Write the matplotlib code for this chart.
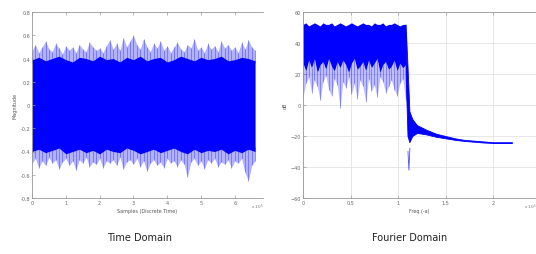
import numpy as np
import matplotlib.pyplot as plt

# time domain: dense core edges and spike envelopes
core_top = [0.39, 0.41, 0.38, 0.40, 0.42, 0.39, 0.37, 0.41, 0.40, 0.38, 0.42, 0.39, 0.40, 0.37,
            0.41, 0.39, 0.42, 0.38, 0.40, 0.41, 0.37, 0.39, 0.42, 0.40, 0.38, 0.41, 0.39, 0.40,
            0.42, 0.38, 0.39, 0.41, 0.40, 0.38]
core_bottom = [-0.40, -0.38, -0.41, -0.39, -0.37, -0.42, -0.40, -0.38, -0.41, -0.39, -0.42, -0.38,
               -0.40, -0.41, -0.37, -0.39, -0.42, -0.40, -0.38, -0.41, -0.39, -0.37, -0.40, -0.42,
               -0.38, -0.41, -0.39, -0.40, -0.38, -0.42, -0.39, -0.41, -0.38, -0.40]
upper_spikes = [0.47, 0.52, 0.45, 0.50, 0.55, 0.48, 0.46, 0.53, 0.49, 0.44, 0.51, 0.47, 0.50, 0.45,
                0.52, 0.48, 0.46, 0.54, 0.50, 0.47, 0.49, 0.45, 0.51, 0.56, 0.48, 0.53, 0.47, 0.58,
                0.50, 0.55, 0.60, 0.52, 0.48, 0.57, 0.50, 0.46, 0.53, 0.49, 0.55, 0.47, 0.51, 0.45,
                0.50, 0.54, 0.48, 0.46, 0.52, 0.49, 0.57, 0.47, 0.50, 0.45, 0.53, 0.48, 0.51, 0.46,
                0.55, 0.49, 0.52, 0.47, 0.50, 0.45, 0.54, 0.48, 0.56, 0.50, 0.47]
lower_spikes = [-0.50, -0.46, -0.54, -0.48, -0.52, -0.45, -0.50, -0.47, -0.55, -0.49, -0.46, -0.52,
                -0.48, -0.56, -0.47, -0.50, -0.45, -0.53, -0.49, -0.51, -0.46, -0.54, -0.48, -0.50,
                -0.47, -0.52, -0.45, -0.55, -0.49, -0.47, -0.51, -0.46, -0.53, -0.48, -0.57, -0.50,
                -0.47, -0.52, -0.49, -0.54, -0.46, -0.50, -0.48, -0.53, -0.47, -0.51, -0.62, -0.49,
                -0.46, -0.52, -0.48, -0.55, -0.47, -0.50, -0.46, -0.53, -0.49, -0.51, -0.47, -0.54,
                -0.48, -0.50, -0.46, -0.58, -0.65, -0.52, -0.48]
t_end = 6.6

# fourier domain: passband top, jagged core floor and low spikes, then roll-off tail
band_end = 1.08
band_top = [52, 53, 51, 52, 53, 52, 51, 53, 52, 52, 53, 51, 52, 53, 52, 51, 52, 53, 52, 51,
            52, 53, 52, 52, 51, 53, 52, 52, 53, 51, 52, 52, 53, 52, 51, 52, 52]
band_core = [27, 22, 29, 24, 30, 21, 26, 28, 23, 30, 25, 22, 28, 24, 29, 26, 21, 27, 30, 23,
             25, 28, 22, 29, 24, 27, 30, 21, 26, 28, 23, 25, 29, 22, 27, 24, 26]
band_spikes = [5, 14, 18, 8, 16, 12, 3, 15, 19, 10, 6, 17, 13, -2, 15, 11, 18, 7, 14, 4,
               16, 12, 2, 17, 9, 13, 5, 18, 15, 8, 12, 16, 10, 6, 14, 17, 3]
tail_x = [1.08, 1.10, 1.12, 1.15, 1.20, 1.30, 1.40, 1.50, 1.60, 1.70, 1.80, 1.90, 2.00, 2.10, 2.20]
tail_hi = [52, 25, -4, -9, -13, -16, -18.5, -20, -21.5, -22.5, -23, -23.5, -24, -24, -24]
tail_lo = [20, -20, -24, -20, -18, -19, -20.5, -21.5, -22.5, -23.2, -23.7, -24.2, -24.5, -24.5, -24.5]
dip_x = [1.105, 1.115, 1.125]
dip_y = [-30, -42, -28]

blue = '#0000ff'
W, H = 536, 255
fig = plt.figure(figsize=(W / 100, H / 100), dpi=100)


def make_axes(x0, x1):
    ax = fig.add_axes([x0 / W, 1 - 199 / H, (x1 - x0) / W, (199 - 13) / H])
    ax.spines['right'].set_visible(False)
    for s in ax.spines.values():
        s.set_color('#999999')
        s.set_linewidth(0.6)
    ax.tick_params(direction='in', length=2, width=0.5, colors='#999999', labelsize=3.5,
                   labelcolor='#666666', top=True, pad=1.5)
    return ax


# left: time domain
ax1 = make_axes(32, 263)
tx = np.linspace(0, t_end, len(upper_spikes))
cx = np.linspace(0, t_end, len(core_top))
ax1.fill_between(cx, core_bottom, core_top, color=blue, lw=0)
ax1.fill_between(tx, 0.36, upper_spikes, color=blue, alpha=0.3, lw=0)
ax1.fill_between(tx, -0.36, lower_spikes, color=blue, alpha=0.3, lw=0)
ax1.vlines(tx, 0.36, upper_spikes, color=blue, alpha=0.45, lw=0.5)
ax1.vlines(tx, -0.36, lower_spikes, color=blue, alpha=0.45, lw=0.5)
ax1.set_xlim(0, (263 - 32) / 33.8)
ax1.set_ylim(-0.8, 0.8)
ax1.set_xticks(range(7))
ax1.set_yticks([-0.8, -0.6, -0.4, -0.2, 0, 0.2, 0.4, 0.6, 0.8])
ax1.set_yticklabels(['-0.8', '-0.6', '-0.4', '-0.2', '0', '0.2', '0.4', '0.6', '0.8'])
ax1.set_xlabel('Samples (Discrete Time)', fontsize=3.5, color='#555555', labelpad=2)
ax1.set_ylabel('Magnitude', fontsize=3.5, color='#555555', labelpad=2)
fig.text(257 / W, 1 - 209 / H, 'x 10$^5$', fontsize=3, color='#777777', ha='center')
fig.text(140 / W, 1 - 241 / H, 'Time Domain', fontsize=7, color='#222222', ha='center')

# right: fourier domain
ax2 = make_axes(303, 536)
fx = np.linspace(0, band_end, len(band_top))
ax2.grid(True, color='#dddddd', lw=0.5)
ax2.set_axisbelow(True)
ax2.fill_between(fx, band_core, band_top, color=blue, lw=0)
ax2.fill_between(fx, band_spikes, band_core, color=blue, alpha=0.25, lw=0)
ax2.vlines(fx, band_spikes, band_core, color=blue, alpha=0.45, lw=0.5)
ax2.fill_between(tail_x, tail_lo, tail_hi, color=blue, lw=0.6, edgecolor=blue)
ax2.plot(dip_x, dip_y, color=blue, lw=0.6, alpha=0.7)
ax2.set_xlim(0, (536 - 303) / 95)
ax2.set_ylim(-60, 60)
ax2.set_xticks([0, 0.5, 1, 1.5, 2])
ax2.set_xticklabels(['0', '0.5', '1', '1.5', '2'])
ax2.set_yticks([-60, -40, -20, 0, 20, 40, 60])
ax2.set_xlabel('Freq (-a)', fontsize=3.5, color='#555555', labelpad=2)
ax2.set_ylabel('dB', fontsize=3.5, color='#555555', labelpad=2)
fig.text(530 / W, 1 - 209 / H, 'x 10$^5$', fontsize=3, color='#777777', ha='center')
fig.text(410 / W, 1 - 241 / H, 'Fourier Domain', fontsize=7, color='#222222', ha='center')

fig.savefig('out.png', dpi=100)
